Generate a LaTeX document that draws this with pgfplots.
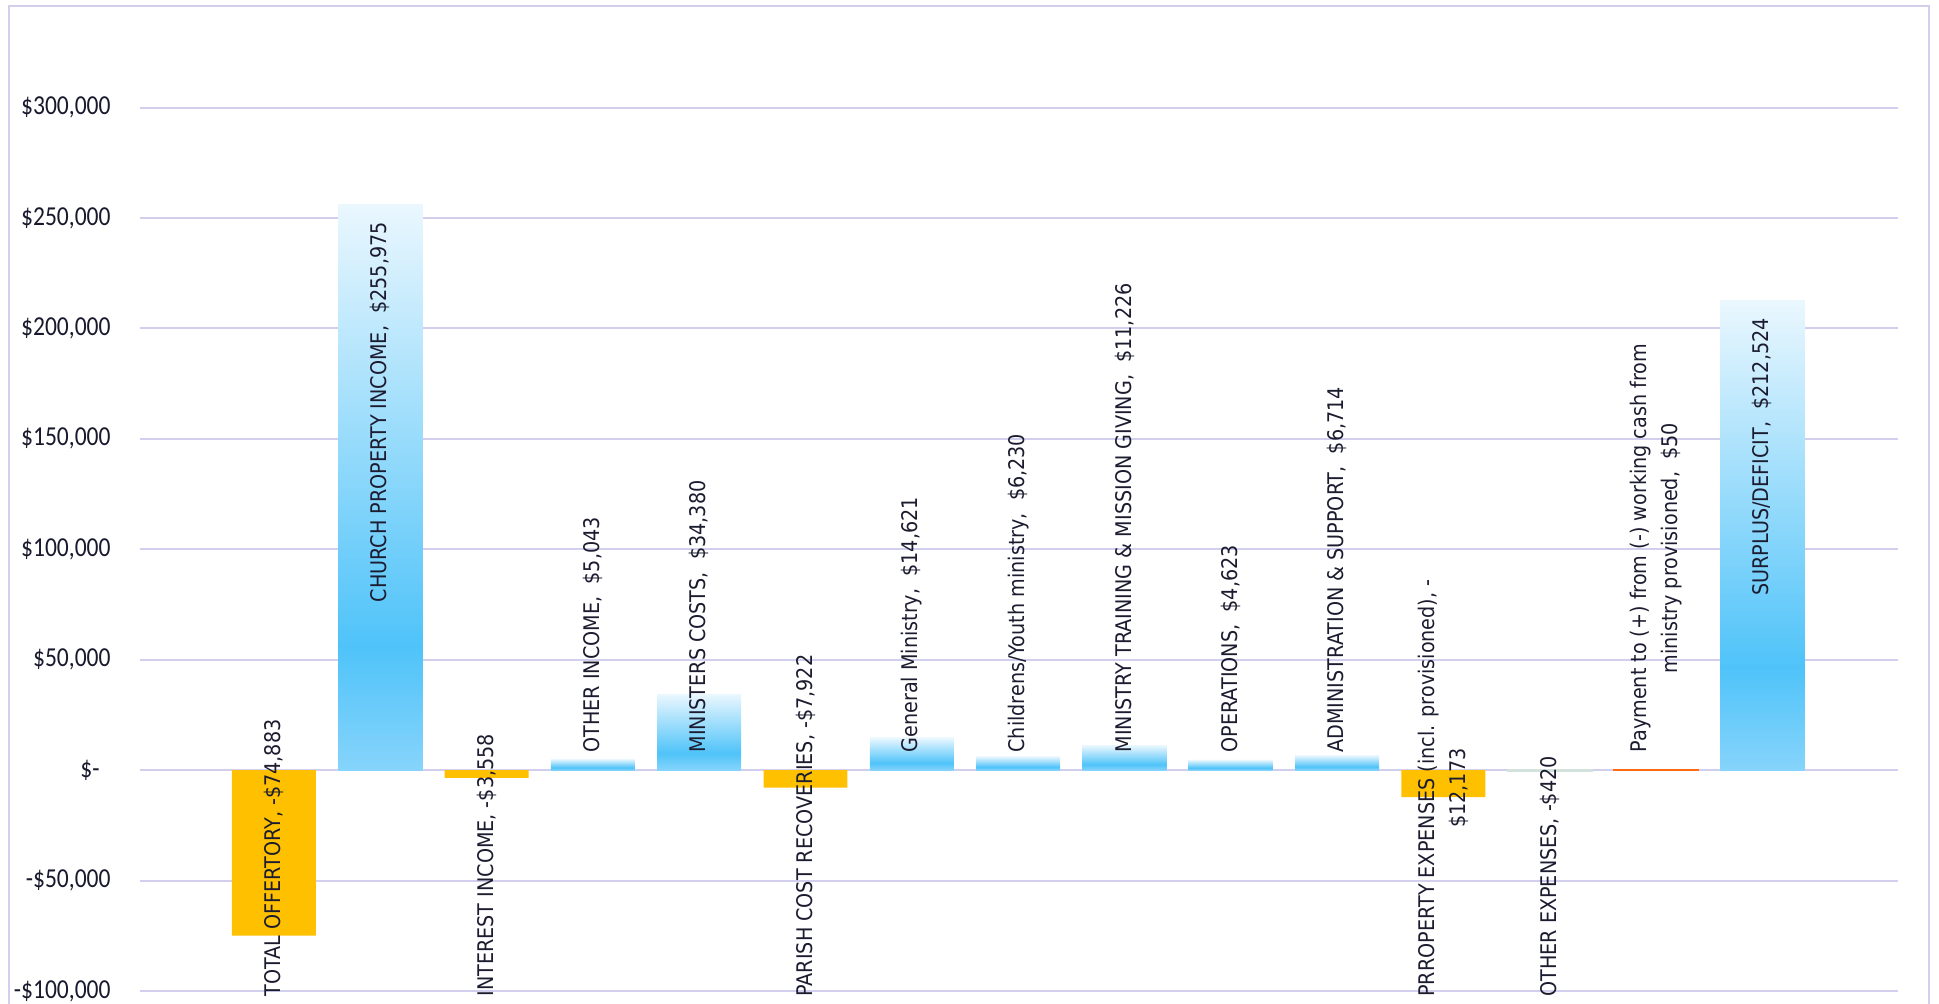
\documentclass[border=0pt]{standalone}
\usepackage{fontspec}
\usepackage{pgfplots}
\pgfplotsset{compat=1.18}
\setmainfont{Carlito}
\newfontfamily\labfont[FakeStretch=0.89]{DejaVu Sans}
\newfontfamily\tickfont[FakeStretch=0.86]{Carlito}
\definecolor{gridc}{RGB}{210,206,238}
\definecolor{gold}{RGB}{255,192,0}
\definecolor{bt}{RGB}{234,247,254}
\definecolor{bd}{RGB}{79,195,249}
\definecolor{bb}{RGB}{134,212,251}
\definecolor{orln}{RGB}{255,106,19}
\definecolor{grln}{RGB}{211,226,220}
\definecolor{labc}{RGB}{28,28,48}
\definecolor{tickc}{RGB}{25,25,45}
\pgfdeclareverticalshading{barblue}{100bp}{color(0bp)=(bb); color(25bp)=(bb); color(36bp)=(bd); color(75bp)=(bt); color(100bp)=(bt)}
\tikzset{lab/.style={rotate=90, font=\labfont\fontsize{10.77}{15.3}\selectfont, text=labc, inner sep=0pt, align=center}}
\pgfplotsset{bluebar/.style={ybar, bar width=0.79, bar shift=0pt, shading=barblue, draw=none}}
\begin{document}
\begin{tikzpicture}
\draw[gridc, line width=1pt] (-65.2pt,-20pt) rectangle (894.65pt,492.5pt);
\begin{axis}[
  at={(0,0)}, anchor=south west,
  scale only axis, width=879.15pt, height=441.7pt,
  xmin=-1.263, xmax=15.277, ymin=-100000, ymax=300000,
  xtick=\empty,
  ytick={-100000,-50000,0,50000,100000,150000,200000,250000,300000},
  yticklabels={{-\$100,000},{-\$50,000},{\$-\hspace*{5.5pt}},{\$50,000},{\$100,000},{\$150,000},{\$200,000},{\$250,000},{\$300,000}},
  scaled y ticks=false,
  yticklabel style={font=\tickfont\fontsize{13.7}{16}\selectfont, text=tickc, inner sep=0pt, xshift=-14.35pt},
  ymajorgrids, grid style={gridc, line width=1pt},
  axis line style={draw=none}, major tick length=0pt,
  clip=false,
]
\addplot[ybar, bar width=0.79, bar shift=0pt, fill=gold, draw=none] coordinates {(0,-74883) (2,-3558) (5,-7922) (11,-12173)};
\addplot[bluebar] coordinates {(1,255975)};
\addplot[bluebar] coordinates {(3,5043)};
\addplot[bluebar] coordinates {(4,34380)};
\addplot[bluebar] coordinates {(6,14621)};
\addplot[bluebar] coordinates {(7,6230)};
\addplot[bluebar] coordinates {(8,11226)};
\addplot[bluebar] coordinates {(9,4623)};
\addplot[bluebar] coordinates {(10,6714)};
\addplot[bluebar] coordinates {(14,212524)};
\addplot[ybar, bar width=0.79, bar shift=0pt, fill=grln, draw=grln, line width=1pt] coordinates {(12,-420)};
\addplot[ybar, bar width=0.79, bar shift=0pt, fill=orln, draw=orln, line width=1pt] coordinates {(13,50)};
% labels
\node[lab, anchor=west] at (axis cs:0,-102720) {TOTAL OFFERTORY, -\$74,883};
\node[lab, anchor=east] at (axis cs:1,248275) {CHURCH PROPERTY INCOME,\ \ \$255,975};
\node[lab, anchor=west] at (axis cs:2,-102720) {INTEREST INCOME, -\$3,558};
\node[lab, anchor=west] at (axis cs:3,7840) {OTHER INCOME,\ \ \$5,043};
\node[lab, anchor=west] at (axis cs:4,7840) {MINISTERS COSTS,\ \ \$34,380};
\node[lab, anchor=west] at (axis cs:5,-102720) {PARISH COST RECOVERIES, -\$7,922};
\node[lab, anchor=west] at (axis cs:6,7840) {General Ministry,\ \ \$14,621};
\node[lab, anchor=west] at (axis cs:7,7840) {Childrens/Youth ministry,\ \ \$6,230};
\node[lab, anchor=west] at (axis cs:8,7840) {MINISTRY TRAINING \& MISSION GIVING,\ \ \$11,226};
\node[lab, anchor=west] at (axis cs:9,7840) {OPERATIONS,\ \ \$4,623};
\node[lab, anchor=west] at (axis cs:10,7840) {ADMINISTRATION \& SUPPORT,\ \ \$6,714};
\node[lab, anchor=west] at (axis cs:11,-102720) {PRROPERTY EXPENSES (incl. provisioned), -\\\$12,173};
\node[lab, anchor=west] at (axis cs:12,-102720) {OTHER EXPENSES, -\$420};
\node[lab, anchor=west] at (axis cs:13,7840) {Payment to (+) from (-) working cash from\\ministry provisioned,\ \ \$50};
\node[lab, anchor=east] at (axis cs:14,204824) {SURPLUS/DEFICIT,\ \ \$212,524};
\end{axis}
\pgfresetboundingbox
\useasboundingbox (-69.85pt,-6.5pt) rectangle (899.65pt,495.5pt);
\end{tikzpicture}
\end{document}
